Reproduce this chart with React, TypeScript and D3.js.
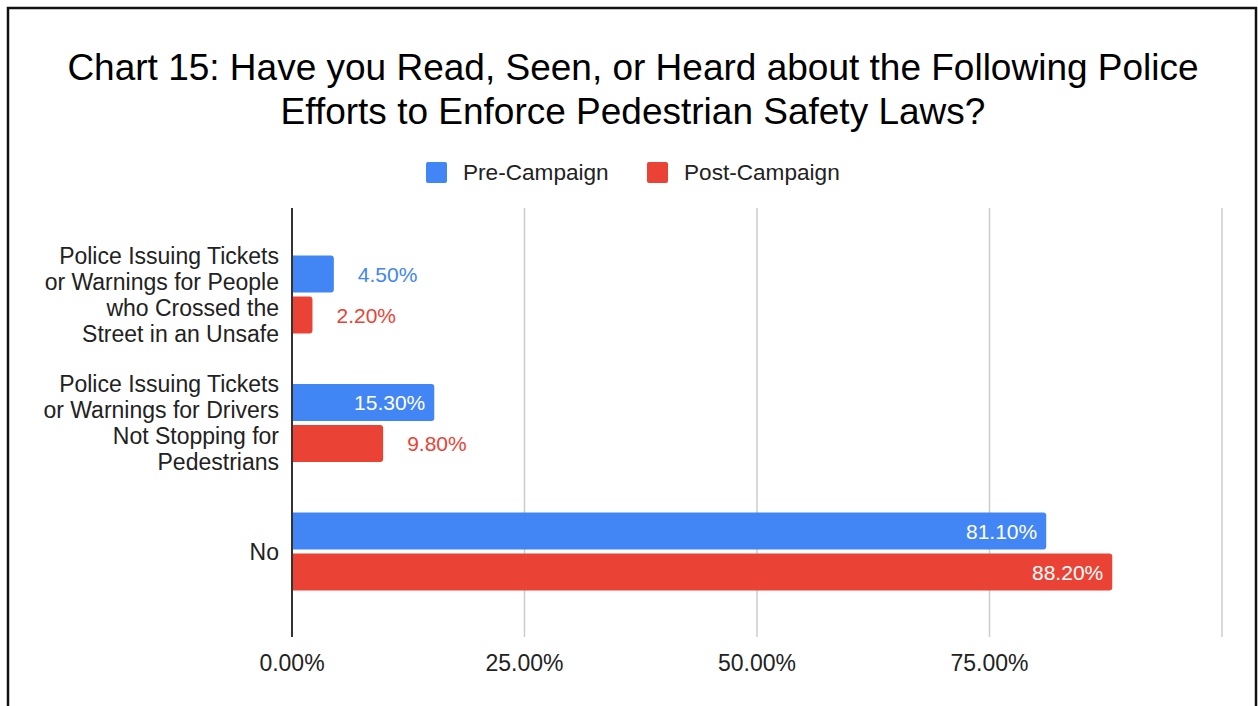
import React from "react";
import * as d3 from "d3";

const categories = [
  ["Police Issuing Tickets", "or Warnings for People", "who Crossed the", "Street in an Unsafe"],
  ["Police Issuing Tickets", "or Warnings for Drivers", "Not Stopping for", "Pedestrians"],
  ["No"],
];
const catKeys = ["people", "drivers", "no"];
const preValues = [4.5, 15.3, 81.1];
const postValues = [2.2, 9.8, 88.2];
const seriesNames = ["Pre-Campaign", "Post-Campaign"];
const seriesColors = ["#4285f4", "#ea4335"];
const ticks = [0, 25, 50, 75];

const W = 1258;
const H = 706;

export default function App() {
  const x = d3.scaleLinear().domain([0, 100]).range([292, 1222]);
  const y = d3.scaleBand().domain(catKeys).range([230.25, 615.75]).paddingInner(0).paddingOuter(0);
  const barH = 37;
  const gap = 4;
  const font = "Arial, 'Liberation Sans', sans-serif";
  const series = [preValues, postValues];

  const barPath = (x0: number, x1: number, y0: number, h: number, r: number) => {
    const rr = Math.min(r, (x1 - x0) / 2);
    return `M${x0},${y0}H${x1 - rr}Q${x1},${y0} ${x1},${y0 + rr}V${y0 + h - rr}Q${x1},${y0 + h} ${x1 - rr},${y0 + h}H${x0}Z`;
  };

  return (
    <svg width={W} height={H} style={{ position: "absolute", left: 0, top: 0, background: "#fff" }} fontFamily={font}>
      <rect x={0} y={0} width={W} height={H} fill="#fff" />
      <path d={`M8,${H}V8H1256V${H}`} fill="none" stroke="#111" strokeWidth={2.5} />
      <text x={633} y={80} textAnchor="middle" fontSize={37} fill="#000">
        Chart 15: Have you Read, Seen, or Heard about the Following Police
      </text>
      <text x={633} y={124} textAnchor="middle" fontSize={37} fill="#000">
        Efforts to Enforce Pedestrian Safety Laws?
      </text>
      {/* legend */}
      <rect x={426} y={162} width={21} height={21} rx={2} fill={seriesColors[0]} />
      <text x={463} y={180} fontSize={22.6} fill="#222">{seriesNames[0]}</text>
      <rect x={647} y={162} width={21} height={21} rx={2} fill={seriesColors[1]} />
      <text x={684} y={180} fontSize={22.6} fill="#222">{seriesNames[1]}</text>
      {/* gridlines */}
      {[25, 50, 75, 100].map((t) => (
        <line key={t} x1={x(t)} x2={x(t)} y1={208} y2={637} stroke="#cccccc" strokeWidth={1.5} />
      ))}
      {/* bars */}
      {catKeys.map((k, i) => {
        const c = (y(k) as number) + y.bandwidth() / 2;
        return series.map((vals, s) => {
          const y0 = s === 0 ? c - gap / 2 - barH : c + gap / 2;
          const v = vals[i];
          const x1 = x(v);
          const inside = x1 - x(0) > 100;
          return (
            <g key={k + s}>
              <path d={barPath(x(0), x1, y0, barH, 3)} fill={seriesColors[s]} />
              <text
                x={inside ? x1 - 9 : x1 + 24}
                y={y0 + barH / 2 + 7.5}
                textAnchor={inside ? "end" : "start"}
                fontSize={21}
                fill={inside ? "#fff" : seriesColors[s]}
              >
                {v.toFixed(2) + "%"}
              </text>
            </g>
          );
        });
      })}
      {/* zero axis */}
      <line x1={x(0)} x2={x(0)} y1={208} y2={637} stroke="#333" strokeWidth={2} />
      {/* category labels */}
      {catKeys.map((k, i) => {
        const c = (y(k) as number) + y.bandwidth() / 2;
        const lines = categories[i];
        const lh = 26;
        const start = c - ((lines.length - 1) * lh) / 2;
        return (
          <text key={k} textAnchor="end" fontSize={23} fill="#222">
            {lines.map((l, j) => (
              <tspan key={j} x={279} y={start + j * lh + 8}>{l}</tspan>
            ))}
          </text>
        );
      })}
      {/* tick labels */}
      {ticks.map((t) => (
        <text key={t} x={x(t)} y={671} textAnchor="middle" fontSize={23} fill="#222">
          {t.toFixed(2) + "%"}
        </text>
      ))}
    </svg>
  );
}
